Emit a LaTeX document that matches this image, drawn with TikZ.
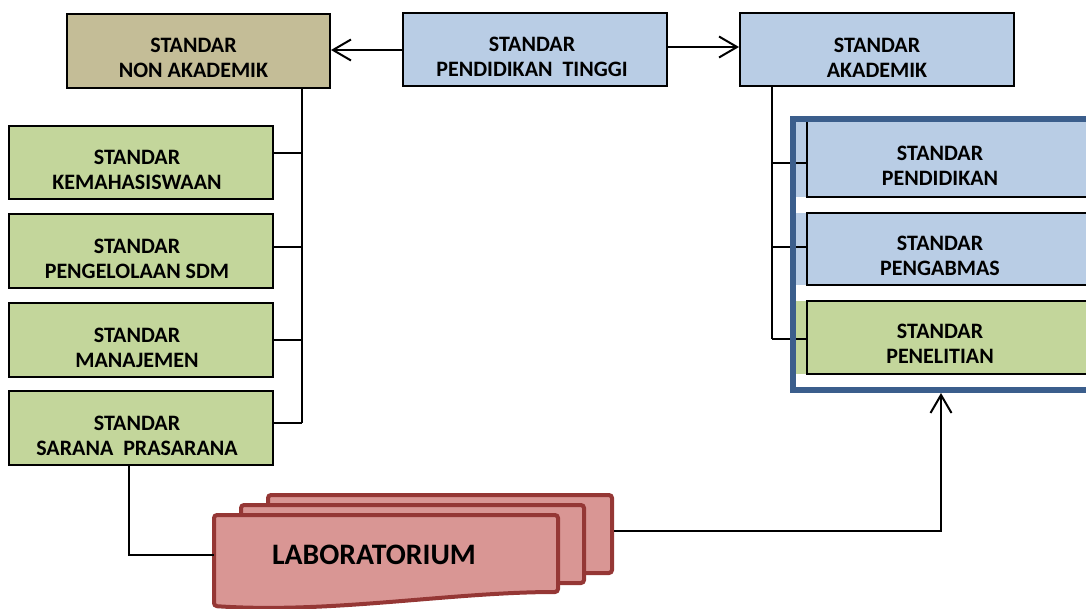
\documentclass[tikz,border=0pt]{standalone}
\usepackage{fontspec}
\setmainfont{Carlito}
\usetikzlibrary{arrows.meta}
\definecolor{cTan}{HTML}{C4BD97}
\definecolor{cBlue}{HTML}{B9CDE5}
\definecolor{cGreen}{HTML}{C3D69B}
\definecolor{cFrame}{HTML}{3B5E8C}
\definecolor{cLab}{HTML}{D99694}
\definecolor{cLabLine}{HTML}{953735}
\tikzset{
  stdbox/.style={draw=black, line width=2pt, inner sep=0pt},
  txt/.style={font=\bfseries\fontsize{22}{25}\selectfont, align=center, inner sep=0pt},
  labtxt/.style={font=\bfseries\fontsize{29.7}{32}\selectfont, inner sep=0pt},
  conn/.style={draw=black, line width=2pt},
  arr/.style={conn, -{Straight Barb[length=18pt,width=21pt]}},
  sheet/.style={draw=cLabLine, fill=cLab, line width=4pt, rounded corners=3pt, inner sep=0pt},
  framestyle/.style={draw=cFrame, line width=6pt}
}
\begin{document}
\begin{tikzpicture}[x=1pt,y=-1pt]
\useasboundingbox (0,0) rectangle (1086,608);

% top row
\node[stdbox, fill=cTan, minimum width=263pt, minimum height=74pt] (na) at (198.5,51) {};
\node[txt] (natxt) at ([xshift=-5pt,yshift=-7pt]na.center) {STANDAR\\NON AKADEMIK};
\node[stdbox, fill=cBlue, minimum width=264pt, minimum height=73pt] (pt) at (535,49.5) {};
\node[txt] (pttxt) at ([xshift=-3pt,yshift=-7pt]pt.center) {STANDAR\\PENDIDIKAN\ \ TINGGI};
\node[stdbox, fill=cBlue, minimum width=274pt, minimum height=73pt] (ak) at (877,49.5) {};
\node[txt] (aktxt) at ([yshift=-8pt]ak.center) {STANDAR\\AKADEMIK};

\draw[arr] ([yshift=-0.5pt]pt.west) -- ([yshift=-0.5pt]pt.west -| na.east);
\draw[arr] ([yshift=2.5pt]pt.east) -- ([yshift=2.5pt]pt.east -| ak.west);

% left column
\node[stdbox, fill=cGreen, minimum width=264pt, minimum height=73pt] (k) at (141,162.5) {};
\node[txt] (ktxt) at ([xshift=-4pt,yshift=-7.5pt]k.center) {STANDAR\\KEMAHASISWAAN};
\node[stdbox, fill=cGreen, minimum width=264pt, minimum height=74pt] (sdm) at (141,251) {};
\node[txt] (sdmtxt) at ([xshift=-4pt,yshift=-7.5pt]sdm.center) {STANDAR\\PENGELOLAAN SDM};
\node[stdbox, fill=cGreen, minimum width=264pt, minimum height=74pt] (man) at (141,340) {};
\node[txt] (mantxt) at ([xshift=-4pt,yshift=-7.5pt]man.center) {STANDAR\\MANAJEMEN};
\node[stdbox, fill=cGreen, minimum width=264pt, minimum height=74pt] (sp) at (141,428) {};
\node[txt] (sptxt) at ([xshift=-4pt,yshift=-7.5pt]sp.center) {STANDAR\\SARANA\ \ PRASARANA};

\coordinate (lt) at (302,423);
\draw[conn] ([xshift=103.5pt]na.south) -- (lt);
\draw[conn] ([yshift=9.5pt]k.east) -- ([yshift=9.5pt]k.east -| lt);
\draw[conn] ([yshift=4pt]sdm.east) -- ([yshift=4pt]sdm.east -| lt);
\draw[conn] (man.east) -- (man.east -| lt);
\draw[conn] ([yshift=5pt]sp.east) -- (lt);

% right group
\fill[cBlue] (796,121) rectangle (807,197);
\fill[cBlue] (796,213) rectangle (807,285);
\fill[cGreen] (796,301) rectangle (807,374);

\coordinate (rt) at (772,339);
\draw[conn] ([xshift=-105pt]ak.south) -- (rt);

\node[stdbox, fill=cBlue, minimum width=393pt, minimum height=76pt] (pd) at (1003.5,159) {};
\node[stdbox, fill=cBlue, minimum width=393pt, minimum height=72pt] (pg) at (1003.5,249) {};
\node[stdbox, fill=cGreen, minimum width=393pt, minimum height=73pt] (pn) at (1003.5,337.5) {};
\node[txt] (pdtxt) at (940,166) {STANDAR\\PENDIDIKAN};
\node[txt] (pgtxt) at (940,256) {STANDAR\\PENGABMAS};
\node[txt] (pntxt) at (940,344) {STANDAR\\PENELITIAN};

\draw[conn] ([yshift=-4pt]pd.west -| rt) -- ([yshift=-4pt]pd.west);
\draw[conn] ([yshift=2pt]pg.west -| rt) -- ([yshift=2pt]pg.west);
\draw[conn] (rt) -- ([yshift=-1.5pt]pn.west);

\node[minimum width=430pt, minimum height=277pt, inner sep=0pt, outer sep=0pt] (fr) at (1005,254.5) {};
\draw[framestyle] ([yshift=-3pt]fr.north east) -- ([xshift=3pt,yshift=-3pt]fr.north west)
  -- ([xshift=3pt,yshift=3pt]fr.south west) -- ([yshift=3pt]fr.south east);

% laboratorium
\node[sheet, minimum width=344pt, minimum height=78pt] (lab3) at (440,534) {};
\node[sheet, minimum width=343pt, minimum height=78pt] (lab2) at (412.5,544) {};
\draw[draw=cLabLine, fill=cLab, line width=4pt, rounded corners=3pt]
  (214,515) -- (558,515) -- (558,592) .. controls (450,592) and (330,614) .. (214,606) -- cycle;
\node[labtxt] (lab) at (374,555) {LABORATORIUM};
\coordinate (labin) at (214,555);

\coordinate (lb) at (129,555);
\draw[conn] ([xshift=-12pt]sp.south) -- (lb) -- (labin);

\draw[arr] ([yshift=3pt]lab3.east) -| ([xshift=-64pt]fr.south);
\end{tikzpicture}
\end{document}
